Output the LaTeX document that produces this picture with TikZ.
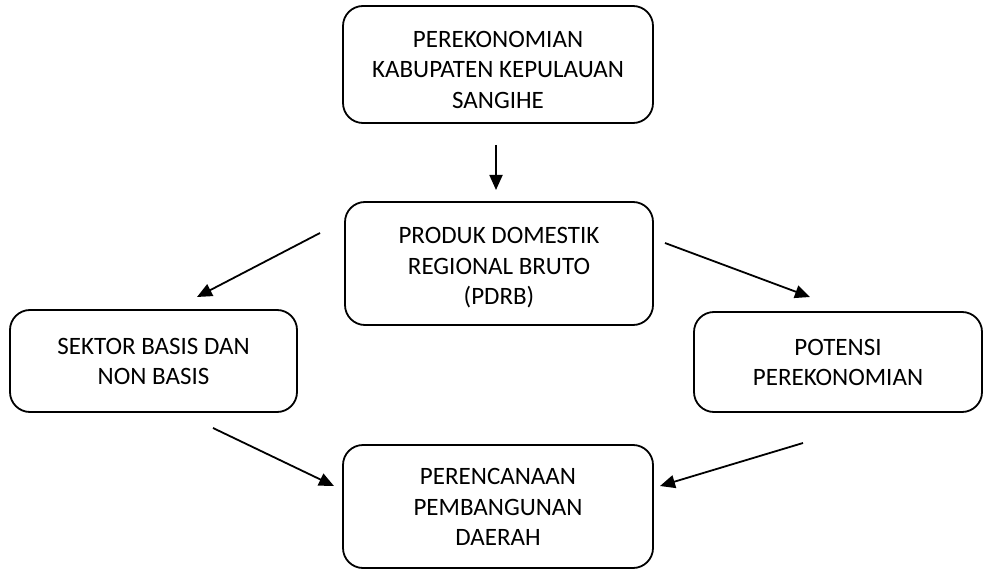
\documentclass[tikz,border=0pt]{standalone}
\usepackage{fontspec}
\setmainfont{Carlito}
\usetikzlibrary{arrows.meta}
\begin{document}
\begin{tikzpicture}[x=1pt,y=-1pt,
  box/.style={draw=black, line width=1.8pt, rounded corners=20pt, inner sep=0pt},
  txt/.style={align=center, font=\fontsize{25}{30.5}\selectfont, inner sep=0pt},
  arr/.style={line width=1.8pt, -{Triangle[length=15pt,width=13pt]}}]
\useasboundingbox (0,0) rectangle (992,577);
% boxes
\node[box, minimum width=310pt, minimum height=117pt] (top) at (498,64.5) {};
\node[txt] (toptext) at (498,69.5) {PEREKONOMIAN\\KABUPATEN KEPULAUAN\\SANGIHE};
\node[box, minimum width=308pt, minimum height=123pt] (mid) at (499,263.5) {};
\node[txt] (midtext) at (499,268) {PRODUK DOMESTIK\\REGIONAL BRUTO\\(PDRB)};
\node[box, minimum width=287pt, minimum height=102pt] (left) at (153.5,361) {};
\node[txt] (lefttext) at (153.5,361.5) {SEKTOR BASIS DAN\\NON BASIS};
\node[box, minimum width=288pt, minimum height=100pt] (right) at (838,362) {};
\node[txt] (righttext) at (838,362.5) {POTENSI\\PEREKONOMIAN};
\node[box, minimum width=310pt, minimum height=123pt] (bottom) at (498,506.5) {};
\node[txt] (bottomtext) at (498,507) {PERENCANAAN\\PEMBANGUNAN\\DAERAH};
% arrow end points
\coordinate (a1s) at (496,145);
\coordinate (a1e) at (496,190);
\coordinate (a2s) at (320,233);
\coordinate (a2e) at (197,297);
\coordinate (a3s) at (665,243);
\coordinate (a3e) at (810,297);
\coordinate (a4s) at (213,428);
\coordinate (a4e) at (334,486);
\coordinate (a5s) at (803,443);
\coordinate (a5e) at (660,486);
% arrows
\draw[arr] (a1s) -- (a1e);
\draw[arr] (a2s) -- (a2e);
\draw[arr] (a3s) -- (a3e);
\draw[arr] (a4s) -- (a4e);
\draw[arr] (a5s) -- (a5e);
\end{tikzpicture}
\end{document}
